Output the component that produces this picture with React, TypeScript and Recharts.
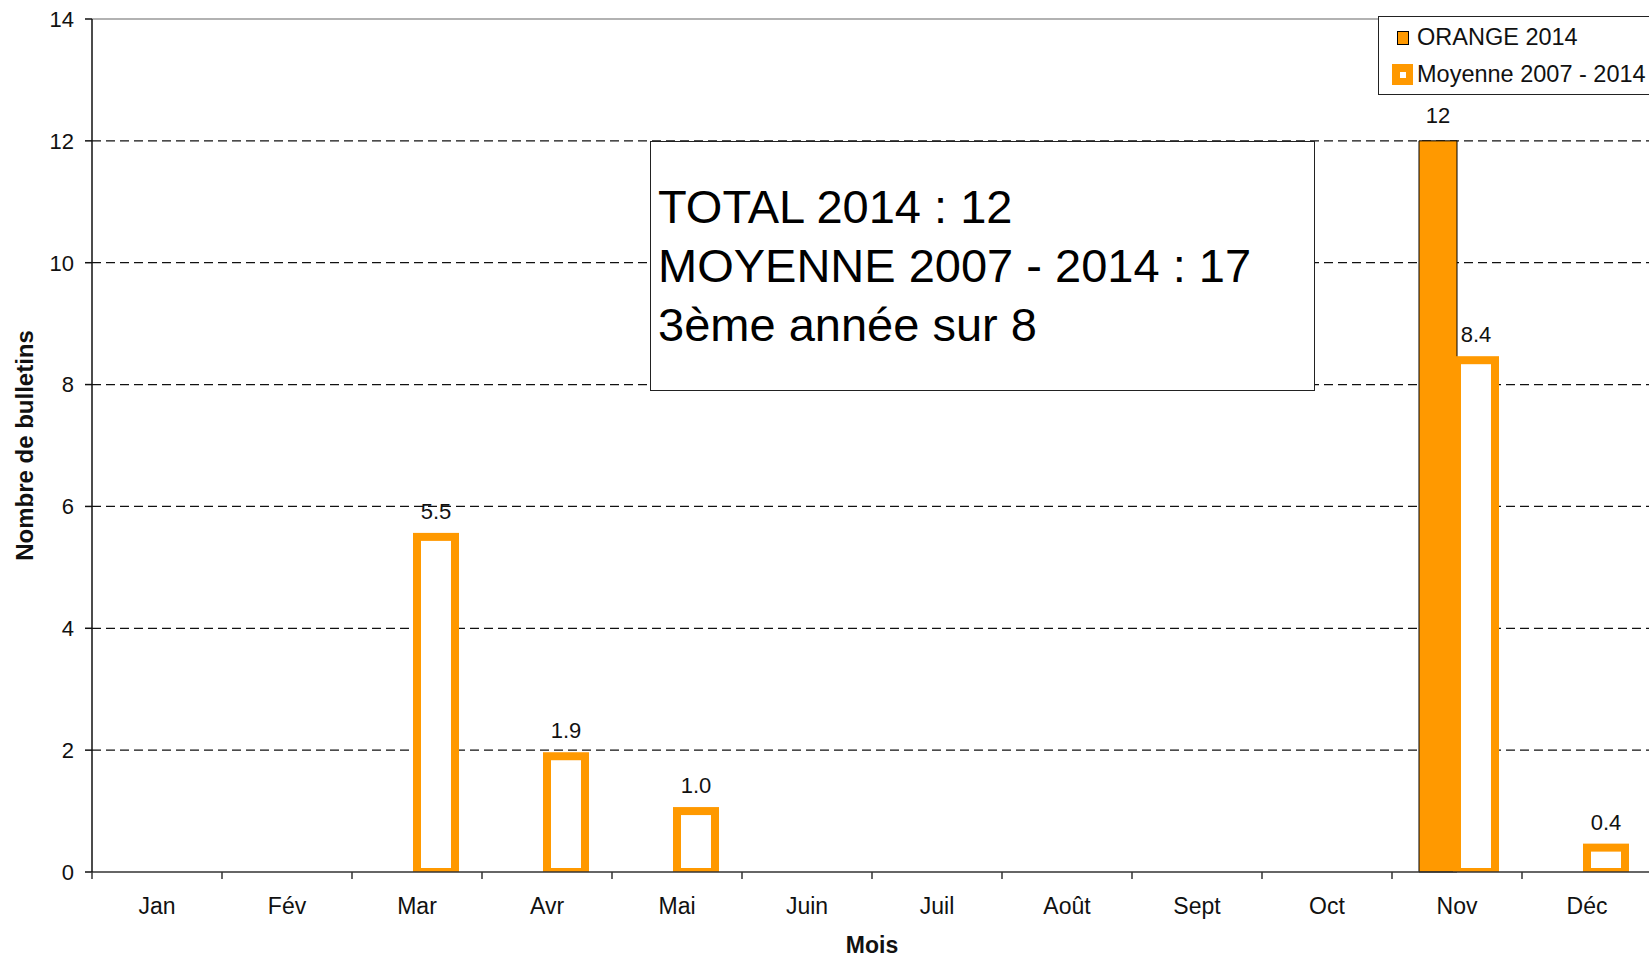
import { Bar, BarChart, CartesianGrid, LabelList, Legend, ReferenceLine, XAxis, YAxis } from 'recharts';

const months = ['Jan', 'Fév', 'Mar', 'Avr', 'Mai', 'Juin', 'Juil', 'Août', 'Sept', 'Oct', 'Nov', 'Déc'];
const orange2014 = [0, 0, 0, 0, 0, 0, 0, 0, 0, 0, 12, 0];
const moyenne = [0, 0, 5.5, 1.9, 1.0, 0, 0, 0, 0, 0, 8.4, 0.4];
const yTicks = [0, 2, 4, 6, 8, 10, 12, 14];
const gridValues = [2, 4, 6, 8, 10, 12];
const seriesNames = ['ORANGE 2014', 'Moyenne 2007 - 2014'];
const summaryLines = ['TOTAL 2014 : 12', 'MOYENNE 2007 - 2014 : 17', '3ème année sur 8'];

const ORANGE = '#FF9900';
const INK = '#111';
const FONT = '"Liberation Sans", Arial, Helvetica, sans-serif';

const data = months.map((month, i) => ({
  month,
  orange: orange2014[i],
  moyenne: moyenne[i],
}));

// category tick: label in the middle, small tick mark on the left boundary
const MonthTick = (props: any) => {
  const { x, y, payload } = props;
  const half = payload.offset ?? 0;
  return (
    <g>
      <line x1={x - half} y1={y} x2={x - half} y2={y + 7} stroke="#333" strokeWidth={1.5} />
      <text x={x} y={y + 42} textAnchor="middle" fontSize={23} fill={INK} fontFamily={FONT}>
        {payload.value}
      </text>
    </g>
  );
};

// white bar with a thick orange border, cut at the axis
const OutlinedBar = (props: any) => {
  const { x, y, width, height } = props;
  if (!height || height <= 0) return null;
  const s = 4;
  return (
    <g>
      <rect x={x - s} y={y - s} width={width + 2 * s} height={height + s} fill={ORANGE} />
      <rect x={x + s} y={y + s} width={width - 2 * s} height={Math.max(height - 2 * s, 0)} fill="#fff" />
    </g>
  );
};

const YTitle = (props: any) => {
  const { viewBox } = props;
  const cx = viewBox.x + 24;
  const cy = viewBox.y + viewBox.height / 2;
  return (
    <text
      x={cx}
      y={cy}
      transform={`rotate(-90, ${cx}, ${cy})`}
      textAnchor="middle"
      dominantBaseline="central"
      fontSize={24}
      fontWeight="bold"
      fill={INK}
      fontFamily={FONT}
    >
      Nombre de bulletins
    </text>
  );
};

const LegendBox = (props: any) => {
  const { payload = [] } = props;
  const items = seriesNames
    .map((name) => payload.find((p: any) => p.value === name))
    .filter(Boolean);
  return (
    <div
      style={{
        border: '1.5px solid #222',
        background: '#fff',
        paddingTop: 2,
        paddingBottom: 1,
        fontFamily: FONT,
        fontSize: 23.5,
        color: INK,
      }}
    >
      {items.map((entry: any) => (
        <div key={entry.value} style={{ display: 'flex', alignItems: 'center', height: 37 }}>
          <div style={{ width: 29, marginLeft: 9, display: 'flex', justifyContent: 'center' }}>
            {entry.value === seriesNames[0] ? (
              <span style={{ width: 10, height: 12, background: ORANGE, border: '1.5px solid #000' }} />
            ) : (
              <span
                style={{
                  width: 21,
                  height: 21,
                  background: ORANGE,
                  display: 'flex',
                  alignItems: 'center',
                  justifyContent: 'center',
                }}
              >
                <span style={{ width: 6, height: 6, background: '#fff' }} />
              </span>
            )}
          </div>
          <span style={{ whiteSpace: 'nowrap' }}>{entry.value}</span>
        </div>
      ))}
    </div>
  );
};

const App = () => {
  return (
    <div
      style={{
        position: 'absolute',
        left: 0,
        top: 0,
        width: 1649,
        height: 960,
        overflow: 'hidden',
        background: '#fff',
        fontFamily: FONT,
      }}
    >
      <div style={{ position: 'relative', width: 1660, height: 960 }}>
        <BarChart
          width={1660}
          height={960}
          data={data}
          margin={{ top: 19, right: 8, bottom: 0, left: 0 }}
          barSize={38}
          barGap={0}
        >
          <CartesianGrid
            vertical={false}
            horizontalValues={gridValues}
            stroke={INK}
            strokeDasharray="9 5"
            strokeWidth={1.3}
          />
          <ReferenceLine y={14} stroke="#999" strokeWidth={1.5} />
          <XAxis
            dataKey="month"
            interval={0}
            height={88}
            tickSize={0}
            tickMargin={0}
            tickLine={false}
            axisLine={{ stroke: '#333', strokeWidth: 1.5 }}
            tick={<MonthTick />}
            label={{
              value: 'Mois',
              position: 'insideBottom',
              offset: 7,
              fontSize: 23,
              fontWeight: 'bold',
              fill: INK,
              fontFamily: FONT,
            }}
          />
          <YAxis
            width={92}
            domain={[0, 14]}
            ticks={yTicks}
            interval={0}
            tickSize={7}
            tickMargin={11}
            axisLine={{ stroke: INK, strokeWidth: 1.5 }}
            tickLine={{ stroke: INK, strokeWidth: 1.5 }}
            tick={{ fontSize: 22, fill: INK, fontFamily: FONT }}
            label={<YTitle />}
          />
          <Legend
            layout="vertical"
            align="center"
            verticalAlign="middle"
            content={<LegendBox />}
            wrapperStyle={{ left: 1378, top: 16, width: 320, height: 'auto' }}
          />
          <Bar
            dataKey="orange"
            name={seriesNames[0]}
            fill={ORANGE}
            stroke="#000"
            strokeWidth={1}
            isAnimationActive={false}
          >
            <LabelList
              dataKey="orange"
              position="top"
              offset={18}
              fontSize={22}
              fill={INK}
              fontFamily={FONT}
              formatter={(v: any) => (v ? String(v) : '')}
            />
          </Bar>
          <Bar
            dataKey="moyenne"
            name={seriesNames[1]}
            fill="#fff"
            stroke={ORANGE}
            shape={<OutlinedBar />}
            isAnimationActive={false}
          >
            <LabelList
              dataKey="moyenne"
              position="top"
              offset={18}
              fontSize={22}
              fill={INK}
              fontFamily={FONT}
              formatter={(v: any) => (v ? Number(v).toFixed(1) : '')}
            />
          </Bar>
        </BarChart>
        <div
          style={{
            position: 'absolute',
            left: 650,
            top: 141,
            width: 665,
            height: 250,
            boxSizing: 'border-box',
            border: '1.5px solid #222',
            background: '#fff',
            paddingTop: 35,
            paddingLeft: 7,
            fontSize: 47,
            lineHeight: '59px',
            color: '#000',
            fontFamily: FONT,
            whiteSpace: 'nowrap',
          }}
        >
          {summaryLines.map((line) => (
            <div key={line}>{line}</div>
          ))}
        </div>
      </div>
    </div>
  );
};

export default App;
